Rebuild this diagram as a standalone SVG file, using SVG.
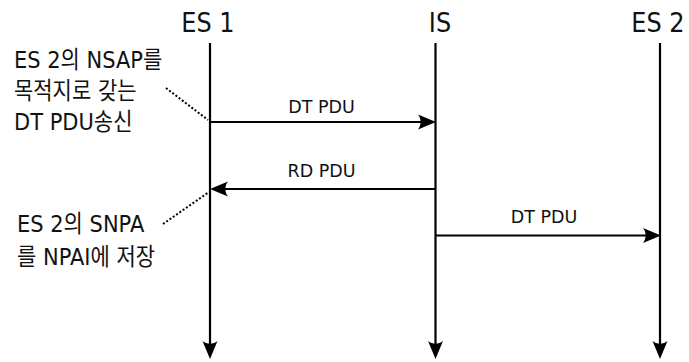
<svg xmlns="http://www.w3.org/2000/svg" width="689" height="362" viewBox="0 0 689 362">
<style>
text { font-family: "DejaVu Sans", "Noto Sans CJK KR", sans-serif; fill: #111; }
.hdr { font-size: 24px; text-anchor: middle; }
.note { font-size: 21px; }
.lbl { font-size: 17.5px; text-anchor: middle; }
.line { stroke: #000; stroke-width: 2.2; fill: none; }
.dot { stroke: #000; stroke-width: 2; stroke-dasharray: 2 2; fill: none; }
</style>
<defs>
<marker id="ah" viewBox="0 0 18 18" refX="13" refY="9" markerWidth="18" markerHeight="18" markerUnits="userSpaceOnUse" orient="auto">
<path d="M18,9 L0,1.5 C3.5,6 3.5,12 0,16.5 Z" fill="#000"/>
</marker>
</defs>
<g id="es1">
<text class="hdr" transform="translate(208,32) scale(1,1.12)">ES 1</text>
<line class="line" x1="210" y1="43" x2="210" y2="354" marker-end="url(#ah)"/>
</g>
<g id="is">
<text class="hdr" transform="translate(440,32) scale(1,1.12)">IS</text>
<line class="line" x1="435.5" y1="43" x2="435.5" y2="354" marker-end="url(#ah)"/>
</g>
<g id="es2">
<text class="hdr" transform="translate(658,32) scale(1,1.12)">ES 2</text>
<line class="line" x1="660" y1="43" x2="660" y2="354" marker-end="url(#ah)"/>
</g>
<g id="note1">
<text class="note" transform="translate(14,68) scale(1,1.12)">ES 2의  NSAP를</text>
<text class="note" transform="translate(14,99) scale(1,1.12)">목적지로 갖는</text>
<text class="note" transform="translate(14,130) scale(1,1.12)">DT PDU송신</text>
</g>
<g id="note2">
<text class="note" transform="translate(17,232) scale(1,1.12)">ES 2의  SNPA</text>
<text class="note" transform="translate(17,265) scale(1,1.12)">를  NPAI에  저장</text>
</g>
<g id="connectors">
<line class="line" x1="211" y1="122" x2="431" y2="122" marker-end="url(#ah)"/>
<text class="lbl" x="321.5" y="113">DT PDU</text>
<line class="line" x1="435" y1="189" x2="215" y2="189" marker-end="url(#ah)"/>
<text class="lbl" x="321.5" y="177">RD PDU</text>
<line class="line" x1="436" y1="235.5" x2="656" y2="235.5" marker-end="url(#ah)"/>
<text class="lbl" x="544" y="222.5">DT PDU</text>
<line class="dot" x1="166" y1="88" x2="208" y2="120"/>
<line class="dot" x1="163" y1="224" x2="209" y2="192"/>
</g>
</svg>
